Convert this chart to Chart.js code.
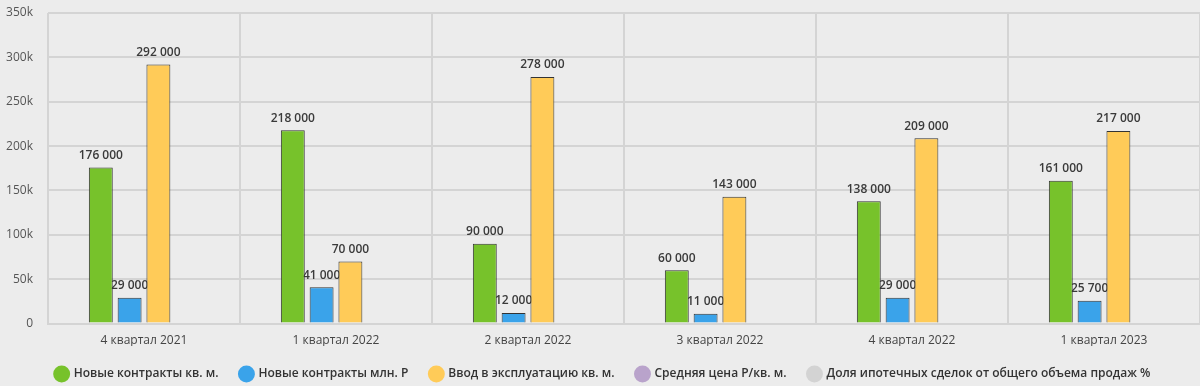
<!DOCTYPE html>
<html>
<head>
<meta charset="utf-8">
<script src="https://cdn.jsdelivr.net/npm/chart.js@4"></script>
<style>
  html, body { margin: 0; padding: 0; background: #ececec; }
  #wrap { width: 1200px; height: 386px; }
</style>
</head>
<body>
<div id="wrap"><canvas id="chart"></canvas></div>
<script>
// Quarters
const categories = ['4 квартал 2021', '1 квартал 2022', '2 квартал 2022', '3 квартал 2022', '4 квартал 2022', '1 квартал 2023'];

// Series values
const newContractsSqm = [176000, 218000, 90000, 60000, 138000, 161000];
const newContractsRub = [29000, 41000, 12000, 11000, 29000, 25700];
const commissioningSqm = [292000, 70000, 278000, 143000, 209000, 217000];
const avgPrice = [null, null, null, null, null, null];
const mortgageShare = [null, null, null, null, null, null];

const seriesNames = [
    'Новые контракты кв. м.',
    'Новые контракты млн. Р',
    'Ввод в эксплуатацию кв. м.',
    'Средняя цена Р/кв. м.',
    'Доля ипотечных сделок от общего объема продаж %'
];

// Y axis ticks
const yTicks = [0, 50000, 100000, 150000, 200000, 250000, 300000, 350000];
const yTickLabels = ['0', '50k', '100k', '150k', '200k', '250k', '300k', '350k'];

function formatValue(v) {
    return String(v).replace(/\B(?=(\d{3})+(?!\d))/g, ' ');
}

// Value labels above bars, drawn under the bars like in the original
const valueLabels = {
    id: 'valueLabels',
    beforeDatasetsDraw(chart) {
        const ctx = chart.ctx;
        ctx.save();
        ctx.font = '600 12px "Open Sans"';
        ctx.fillStyle = '#3a3a3a';
        ctx.textAlign = 'center';
        ctx.textBaseline = 'bottom';
        chart.data.datasets.forEach((ds, i) => {
            const meta = chart.getDatasetMeta(i);
            meta.data.forEach((bar, j) => {
                const v = ds.data[j];
                if (v === null || v === undefined) return;
                ctx.fillText(formatValue(v), bar.x, bar.y - 6);
            });
        });
        ctx.restore();
    }
};

new Chart(document.getElementById('chart'), {
    type: 'bar',
    data: {
        labels: categories,
        datasets: [
            { label: seriesNames[0], data: newContractsSqm, backgroundColor: '#77c22b', stack: 's1' },
            { label: seriesNames[1], data: newContractsRub, backgroundColor: '#3aa3ea', stack: 's2' },
            { label: seriesNames[2], data: commissioningSqm, backgroundColor: '#ffcb58', stack: 's3' },
            { label: seriesNames[3], data: avgPrice, backgroundColor: '#b9a3cb', stack: 's4' },
            { label: seriesNames[4], data: mortgageShare, backgroundColor: '#d3d3d3', stack: 's4' }
        ]
    },
    options: {
        responsive: true,
        maintainAspectRatio: false,
        animation: false,
        layout: {
            padding: { top: 0, right: -6, left: 0, bottom: -4 }
        },
        datasets: {
            bar: {
                borderColor: '#333333',
                borderWidth: 1,
                borderSkipped: 'bottom',
                categoryPercentage: 0.6,
                barPercentage: 0.83
            }
        },
        scales: {
            x: {
                afterFit(axis) { axis.height = axis.height - 12; },
                grid: {
                    color: '#d4d4d4',
                    lineWidth: 2,
                    offset: true,
                    drawTicks: false
                },
                border: { color: '#d4d4d4', width: 2 },
                ticks: {
                    color: '#444',
                    font: { family: '"Open Sans"', size: 12 },
                    padding: 10
                }
            },
            y: {
                min: 0,
                max: 350000,
                afterFit(axis) {
                    axis.width = 48;
                    axis.paddingTop = 13;
                    axis.paddingBottom = 0;
                },
                afterBuildTicks(axis) {
                    axis.ticks = yTicks.map(v => ({ value: v }));
                },
                grid: {
                    color: '#d4d4d4',
                    lineWidth: 2,
                    drawTicks: false
                },
                border: { display: false },
                ticks: {
                    color: '#555',
                    font: { family: '"Open Sans"', size: 12 },
                    padding: 15,
                    callback: (value) => yTickLabels[yTicks.indexOf(value)]
                }
            }
        },
        plugins: {
            legend: {
                position: 'bottom',
                labels: {
                    usePointStyle: true,
                    pointStyle: 'circle',
                    boxWidth: 12,
                    boxHeight: 12,
                    padding: 22,
                    color: '#333',
                    font: { family: '"Open Sans"', size: 12, weight: '600' },
                    generateLabels(chart) {
                        return chart.data.datasets.map((ds, i) => ({
                            text: ds.label,
                            fillStyle: ds.backgroundColor,
                            strokeStyle: ds.backgroundColor,
                            lineWidth: 0,
                            pointStyle: 'circle',
                            datasetIndex: i,
                            fontColor: '#333'
                        }));
                    }
                }
            },
            tooltip: { enabled: false }
        }
    },
    plugins: [valueLabels]
});
</script>
</body>
</html>
